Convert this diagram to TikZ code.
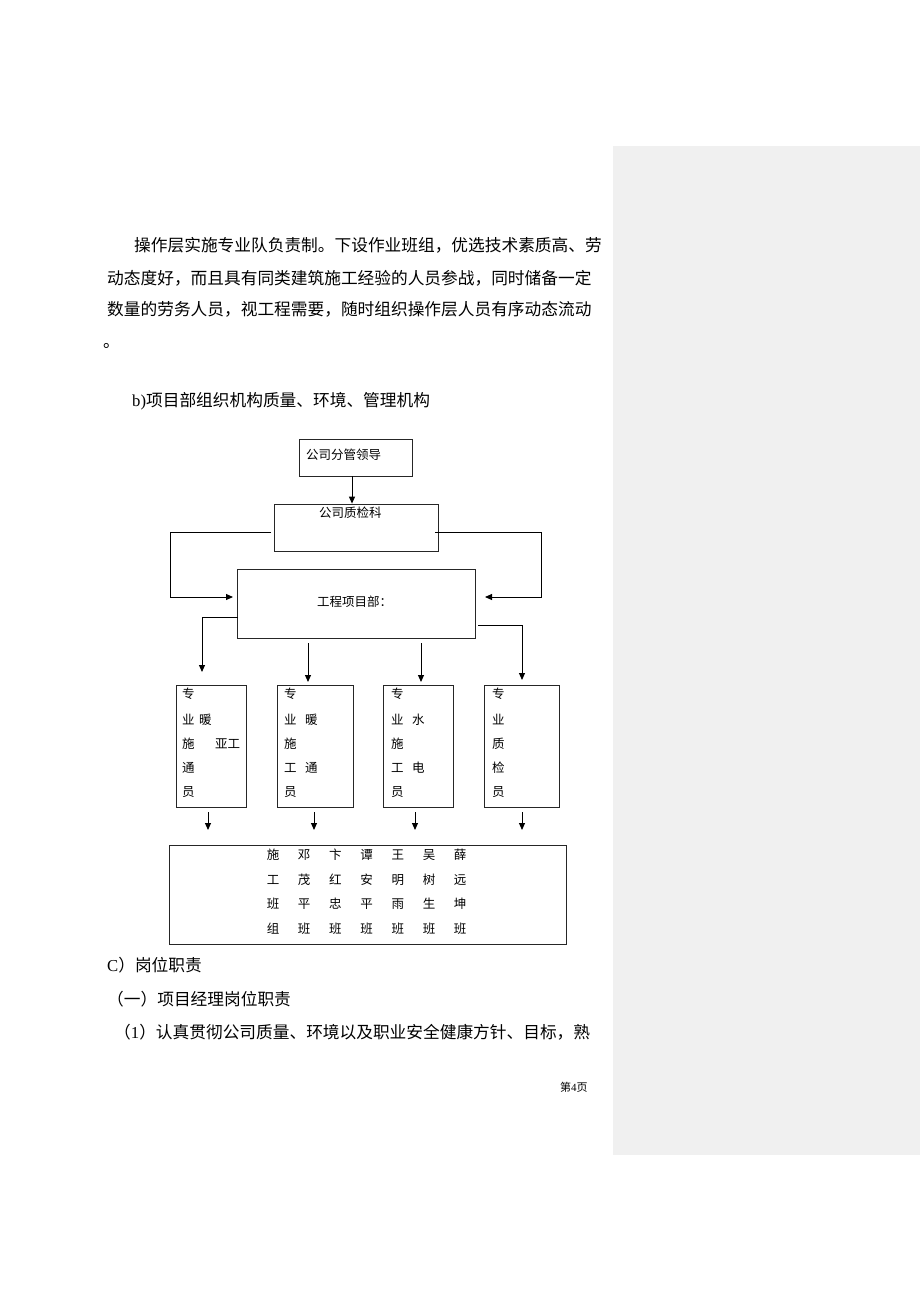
\documentclass[tikz,border=0pt]{standalone}
\usepackage{fontspec}
\setmainfont{Liberation Serif}
\newfontfamily\cjk{Noto Sans CJK SC}
\usetikzlibrary{arrows.meta}
\newdimen\cjkgap
\cjkgap=0pt
\XeTeXinterchartoks 1 1 = {\hskip\cjkgap\relax}
\XeTeXinterchartoks 1 3 = {\hskip\cjkgap\relax}
\XeTeXinterchartoks 3 1 = {\hskip\cjkgap\relax}
\XeTeXinterchartoks 1 2 = {\hskip\cjkgap\relax}
\newcommand\bodyfont{\fontsize{16.7pt}{20pt}\selectfont}
\newcommand\boxfont{\fontsize{12.5pt}{15pt}\selectfont}
\definecolor{panelgray}{RGB}{240,240,240}
\tikzset{
  box/.style={draw=black!85, line width=0.8pt, inner sep=0pt},
  txt/.style={inner sep=0pt, anchor=base west, font=\bodyfont},
  btxt/.style={inner sep=0pt, anchor=base west, font=\boxfont},
  gtxt/.style={inner sep=0pt, anchor=base, font=\boxfont},
  arr/.style={line width=1pt, -{Triangle[length=7pt,width=6pt]}},
}
\begin{document}
\begin{tikzpicture}[x=1pt,y=-1pt]
\useasboundingbox (0,0) rectangle (920,1302);
\fill[white] (0,0) rectangle (920,1302);
\fill[panelgray] (613,146) rectangle (920,1155);

% body text
\node[txt] (p1) at (134,251) {\cjk 操作层实施专业队负责制。下设作业班组，优选技术素质高、劳};
\node[txt] (p2) at (107,284) {\cjk 动态度好，而且具有同类建筑施工经验的人员参战，同时储备一定};
\node[txt] (p3) at (107,315) {\cjk 数量的劳务人员，视工程需要，随时组织操作层人员有序动态流动};
\node[txt] (p4) at (103,347) {\cjk 。};
\node[txt] (title) at (132,406) {b)\cjk 项目部组织机构质量、环境、管理机构};

% level 1
\node[box, minimum width=113pt, minimum height=37pt] (b1) at (355.5,457.5) {};
\node[btxt] (t1) at (306,459.6) {\cjk 公司分管领导};
\node[box, minimum width=164pt, minimum height=47pt] (b2) at (356,527.5) {};
\node[btxt] (t2) at (319,517.6) {\cjk 公司质检科};
\node[box, minimum width=238pt, minimum height=69pt] (b3) at (356,603.5) {};
\node[btxt] (t3) at (317,606.6) {\cjk 工程项目部：};

\coordinate (a1) at (352,0);
\draw[arr] (b1.south -| a1) -- (b2.north -| a1);

\coordinate (l1) at (271,532);
\coordinate (l2) at (233,597);
\draw[arr] (l1) -- (170,532) |- (l2);
\coordinate (r1) at (435,532);
\coordinate (r2) at (485,597);
\draw[arr] (r1) -- (541,532) |- (r2);

% level 2 boxes
\node[box, minimum width=70pt, minimum height=122pt] (sa) at (211,746) {};
\node[box, minimum width=76pt, minimum height=122pt] (sb) at (315,746) {};
\node[box, minimum width=70pt, minimum height=122pt] (sc) at (418,746) {};
\node[box, minimum width=75pt, minimum height=122pt] (sd) at (521.5,746) {};

\coordinate (d1) at (238,617);
\coordinate (d1e) at (202,672);
\draw[arr] (d1) -| (d1e);
\coordinate (d2) at (308,643);
\coordinate (d2e) at (308,682);
\draw[arr] (d2) -- (d2e);
\coordinate (d3) at (421,643);
\coordinate (d3e) at (421,682);
\draw[arr] (d3) -- (d3e);
\coordinate (d4) at (478,625);
\coordinate (d4e) at (522,680);
\draw[arr] (d4) -| (d4e);

% box texts
\node[btxt] (a_1) at (182,698) {\cjk 专};
\node[btxt] (a_2) at (182,724) {\cjk 业};
\node[btxt] (a_2b) at (199,724) {\cjk 暖};
\node[btxt] (a_3) at (182,748.6) {\cjk 施};
\node[btxt] (a_3b) at (215,748.6) {\cjk 亚工};
\node[btxt] (a_4) at (182,772.3) {\cjk 通};
\node[btxt] (a_5) at (182,796.3) {\cjk 员};

\node[btxt] (b_1) at (284,698) {\cjk 专};
\node[btxt] (b_2) at (284,724) {\cjk 业};
\node[btxt] (b_2b) at (305,724) {\cjk 暖};
\node[btxt] (b_3) at (284,748.6) {\cjk 施};
\node[btxt] (b_4) at (284,772.3) {\cjk 工};
\node[btxt] (b_4b) at (305,772.3) {\cjk 通};
\node[btxt] (b_5) at (284,796.3) {\cjk 员};

\node[btxt] (c_1) at (391,698) {\cjk 专};
\node[btxt] (c_2) at (391,724) {\cjk 业};
\node[btxt] (c_2b) at (412,724) {\cjk 水};
\node[btxt] (c_3) at (391,748.6) {\cjk 施};
\node[btxt] (c_4) at (391,772.3) {\cjk 工};
\node[btxt] (c_4b) at (412,772.3) {\cjk 电};
\node[btxt] (c_5) at (391,796.3) {\cjk 员};

\node[btxt] (e_1) at (492,698) {\cjk 专};
\node[btxt] (e_2) at (492,724) {\cjk 业};
\node[btxt] (e_3) at (492,748.6) {\cjk 质};
\node[btxt] (e_4) at (492,772.3) {\cjk 检};
\node[btxt] (e_5) at (492,796.3) {\cjk 员};

% small arrows
\coordinate (s1) at (208,812); \coordinate (s1e) at (208,830);
\coordinate (s2) at (314,812); \coordinate (s2e) at (314,830);
\coordinate (s3) at (415,812); \coordinate (s3e) at (415,830);
\coordinate (s4) at (522,812); \coordinate (s4e) at (522,830);
\draw[arr] (s1) -- (s1e);
\draw[arr] (s2) -- (s2e);
\draw[arr] (s3) -- (s3e);
\draw[arr] (s4) -- (s4e);

% bottom box
\node[box, minimum width=397pt, minimum height=99pt] (bb) at (367.5,894.5) {};
\foreach \r/\y in {1/859.6,2/884.6,3/908,4/933}{
  \foreach \c/\x in {1/273,2/304.2,3/335.4,4/366.6,5/397.8,6/429,7/460.2}{
    \ifcase\r\or
      \ifcase\c\or\def\ch{施}\or\def\ch{邓}\or\def\ch{卞}\or\def\ch{谭}\or\def\ch{王}\or\def\ch{吴}\or\def\ch{薛}\fi
    \or
      \ifcase\c\or\def\ch{工}\or\def\ch{茂}\or\def\ch{红}\or\def\ch{安}\or\def\ch{明}\or\def\ch{树}\or\def\ch{远}\fi
    \or
      \ifcase\c\or\def\ch{班}\or\def\ch{平}\or\def\ch{忠}\or\def\ch{平}\or\def\ch{雨}\or\def\ch{生}\or\def\ch{坤}\fi
    \or
      \ifcase\c\or\def\ch{组}\or\def\ch{班}\or\def\ch{班}\or\def\ch{班}\or\def\ch{班}\or\def\ch{班}\or\def\ch{班}\fi
    \fi
    \node[gtxt] (g\r\c) at (\x,\y) {\cjk\ch};
  }
}

% lower text
\node[txt] (c1) at (107,971) {C\cjk ）岗位职责};
\node[txt] (c2) at (107,1005) {\cjk （一）项目经理岗位职责};
\node[txt] (c3) at (114,1038) {\cjkgap=1.35pt\XeTeXinterchartokenstate=1 \cjk （{\rmfamily 1}）认真贯彻公司质量、环境以及职业安全健康方针、目标，熟};
\node[inner sep=0pt, anchor=base west, font=\fontsize{11pt}{13pt}\selectfont] (pg) at (560,1091) {\cjk 第{\rmfamily 4}页};
\end{tikzpicture}
\end{document}
